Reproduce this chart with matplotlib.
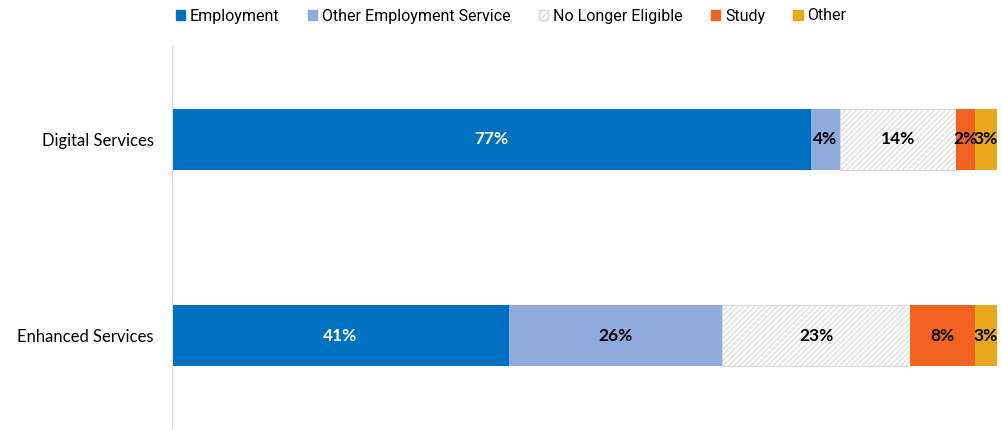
import matplotlib.pyplot as plt
from matplotlib.patches import Patch

plt.rcParams['hatch.linewidth'] = 0.8

categories = ["Digital Services", "Enhanced Services"]
series = ["Employment", "Other Employment Service", "No Longer Eligible", "Study", "Other"]
digital = [77.4, 3.6, 14.0, 2.3, 2.7]
enhanced = [40.8, 25.9, 22.8, 7.8, 2.7]

colors = ["#0070C0", "#8FAADC", "white", "#F26322", "#E9A81C"]
label_colors = ["white", "black", "black", "black", "black"]

fig = plt.figure(figsize=(10.02, 4.30), dpi=100)
ax = fig.add_axes([172 / 1002, 0, 825 / 1002, 385 / 430])

values = list(zip(digital, enhanced))
left = [0.0, 0.0]
handles = []
for i, name in enumerate(series):
    vals = values[i]
    hatched = name == "No Longer Eligible"
    bars = ax.barh(range(len(categories)), vals, left=left, height=0.31,
                   color=colors[i], edgecolor="#d9d9d9" if hatched else colors[i],
                   hatch="//////" if hatched else None, linewidth=0.8 if hatched else 0)
    for b, v in zip(bars, vals):
        ax.text(b.get_x() + b.get_width() / 2, b.get_y() + b.get_height() / 2,
                f"{round(v):d}%", ha="center", va="center", color=label_colors[i],
                fontsize=12.5, fontweight="bold", family=["Lato", "DejaVu Sans"])
    left = [l + v for l, v in zip(left, vals)]
    handles.append(Patch(facecolor=colors[i], edgecolor="#d9d9d9" if hatched else colors[i],
                         hatch="/////" if hatched else None, label=name))

ax.set_xlim(0, 100)
ax.set_ylim(1.48, -0.48)
ax.set_yticks(range(len(categories)))
ax.set_yticklabels(categories, fontsize=12, family=["Lato", "DejaVu Sans"])
ax.tick_params(axis="y", length=0, pad=13)
ax.set_xticks([])
for s in ["top", "right", "bottom"]:
    ax.spines[s].set_visible(False)
ax.spines["left"].set_color("#d9d9d9")

fig.legend(handles=handles, loc="center", bbox_to_anchor=(511 / 1002, 1 - 16 / 430), ncol=5,
           frameon=False, handlelength=0.6, handleheight=0.6, handletextpad=0.3,
           columnspacing=1.75, prop={"family": ["Roboto", "DejaVu Sans"], "size": 11.5})

fig.savefig("out.png", dpi=100)
